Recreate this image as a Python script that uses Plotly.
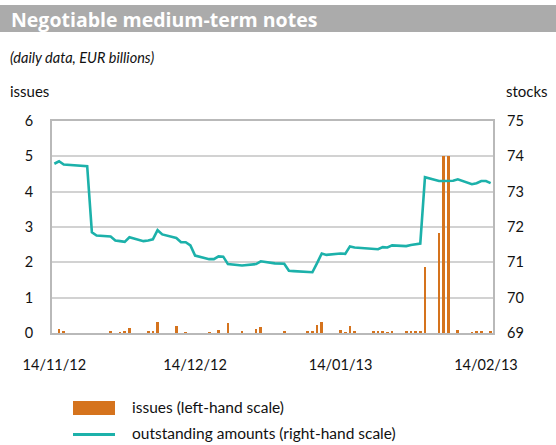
import plotly.graph_objects as go

# Business days covered by the chart (TARGET holidays excluded)
dates = [
    "2012-11-14", "2012-11-15", "2012-11-16", "2012-11-19", "2012-11-20", "2012-11-21",
    "2012-11-22", "2012-11-23", "2012-11-26", "2012-11-27", "2012-11-28", "2012-11-29",
    "2012-11-30",
    "2012-12-03", "2012-12-04", "2012-12-05", "2012-12-06", "2012-12-07", "2012-12-10",
    "2012-12-11", "2012-12-12", "2012-12-13", "2012-12-14", "2012-12-17", "2012-12-18",
    "2012-12-19", "2012-12-20", "2012-12-21", "2012-12-24", "2012-12-27", "2012-12-28",
    "2012-12-31",
    "2013-01-02", "2013-01-03", "2013-01-04", "2013-01-07", "2013-01-08", "2013-01-09",
    "2013-01-10", "2013-01-11", "2013-01-14", "2013-01-15", "2013-01-16", "2013-01-17",
    "2013-01-18", "2013-01-21", "2013-01-22", "2013-01-23", "2013-01-24", "2013-01-25",
    "2013-01-28", "2013-01-29", "2013-01-30", "2013-01-31",
    "2013-02-01", "2013-02-04", "2013-02-05", "2013-02-06", "2013-02-07", "2013-02-08",
    "2013-02-11", "2013-02-12", "2013-02-13", "2013-02-14", "2013-02-15",
]

# Gross issues, EUR billions (left-hand scale)
issues = [
    0.00, 0.11, 0.03, 0.00, 0.00, 0.00,
    0.00, 0.00, 0.06, 0.00, 0.02, 0.03,
    0.15,
    0.00, 0.07, 0.04, 0.32, 0.00, 0.21,
    0.00, 0.02, 0.00, 0.00, 0.02, 0.00,
    0.09, 0.00, 0.28, 0.07, 0.12, 0.17,
    0.00,
    0.03, 0.00, 0.00, 0.03, 0.03, 0.24,
    0.30, 0.00, 0.08, 0.02, 0.20, 0.07,
    0.00, 0.03, 0.03, 0.06, 0.02, 0.06,
    0.04, 0.04, 0.04, 0.04,
    1.87, 2.84, 5.00, 5.00, 0.00, 0.09,
    0.02, 0.07, 0.07, 0.00, 0.06,
]

# Outstanding amounts, EUR billions (right-hand scale)
stocks = [
    73.79, 73.86, 73.77, 73.74, 73.72, 73.72,
    71.85, 71.76, 71.73, 71.62, 71.60, 71.58,
    71.71,
    71.60, 71.62, 71.65, 71.91, 71.79, 71.69,
    71.57, 71.57, 71.48, 71.19, 71.09, 71.09,
    71.17, 71.16, 70.95, 70.91, 70.95, 71.03,
    70.97,
    70.96, 70.76, 70.75, 70.74, 70.72, 70.98,
    71.25, 71.21, 71.25, 71.24, 71.45, 71.42,
    71.41, 71.37, 71.37, 71.43, 71.42, 71.48,
    71.46, 71.49, 71.50, 71.53,
    73.41, 73.30, 73.30, 73.30, 73.31, 73.35,
    73.21, 73.24, 73.30, 73.30, 73.24,
]

tick_dates = ["2012-11-14", "2012-12-14", "2013-01-14", "2013-02-14"]
tick_text = ["14/11/12", "14/12/12", "14/01/13", "14/02/13"]

ORANGE = "#D5731D"
TEAL = "#1CB1AA"
FRAME = "#B9B9B9"
GRID = "#D2D2D2"
FONT = "Lato"

W, H = 556, 445
ML, MR, MT, MB = 52, 63, 121, 112
PW, PH = W - ML - MR, H - MT - MB


def px(x):
    return (x - ML) / PW


def py(y):
    return (H - MB - y) / PH


fig = go.Figure()

fig.add_trace(go.Bar(
    x=dates, y=issues, yaxis="y",
    marker=dict(color=ORANGE, line=dict(width=0)),
    width=0.58 * 86400000,
    name="issues (left-hand scale)",
    showlegend=False,
))

fig.add_trace(go.Scatter(
    x=dates, y=stocks, yaxis="y2",
    mode="lines",
    line=dict(color=TEAL, width=2.6),
    name="outstanding amounts (right-hand scale)",
    showlegend=False,
))

shapes = [
    # title band
    dict(type="rect", xref="paper", yref="paper",
         x0=px(0), x1=px(W), y0=py(32), y1=py(5),
         fillcolor="#ABABAB", line=dict(width=0), layer="below"),
    # legend keys
    dict(type="rect", xref="paper", yref="paper",
         x0=px(73), x1=px(115), y0=py(415), y1=py(401),
         fillcolor=ORANGE, line=dict(width=0)),
    dict(type="line", xref="paper", yref="paper",
         x0=px(73), x1=px(115), y0=py(434.5), y1=py(434.5),
         line=dict(color=TEAL, width=3)),
]

annotations = [
    dict(text="<b>Negotiable medium-term notes</b>", x=px(9), y=py(19),
         font=dict(size=19.5, color="white", family="Open Sans")),
    dict(text="<i>(daily data, EUR billions)</i>", x=px(8), y=py(57),
         font=dict(size=14.5, color="#111111", family=FONT)),
    dict(text="issues", x=px(8), y=py(91),
         font=dict(size=15, color="#111111", family=FONT)),
    dict(text="stocks", x=px(504), y=py(91),
         font=dict(size=15, color="#111111", family=FONT)),
    dict(text="issues (left-hand scale)", x=px(130), y=py(407),
         font=dict(size=15.5, color="#111111", family=FONT)),
    dict(text="outstanding amounts (right-hand scale)", x=px(130), y=py(433),
         font=dict(size=15.5, color="#111111", family=FONT)),
]
for a in annotations:
    a.update(xref="paper", yref="paper", xanchor="left", yanchor="middle",
             showarrow=False)

fig.update_layout(
    width=W, height=H,
    margin=dict(l=ML, r=MR, t=MT, b=MB, pad=0),
    paper_bgcolor="white", plot_bgcolor="white",
    font=dict(family=FONT, size=14, color="#111111"),
    bargap=0,
    shapes=shapes,
    annotations=annotations,
    xaxis=dict(
        type="date",
        range=["2012-11-13 12:00", "2013-02-15 12:00"],
        tickvals=tick_dates, ticktext=tick_text,
        ticks="", ticklabelstandoff=18,
        tickfont=dict(size=14.5),
        showgrid=False, zeroline=False,
        showline=True, mirror=True, linecolor=FRAME, linewidth=2,
    ),
    yaxis=dict(
        range=[0, 6], dtick=1, tick0=0,
        ticks="", ticklabelstandoff=14,
        tickfont=dict(size=14.5),
        showgrid=True, gridcolor=GRID, gridwidth=1.5,
        zeroline=False,
        showline=True, mirror=True, linecolor=FRAME, linewidth=2,
    ),
    yaxis2=dict(
        range=[69, 75], dtick=1, tick0=69,
        overlaying="y", side="right",
        ticks="", ticklabelstandoff=13,
        tickfont=dict(size=14.5),
        showgrid=False, zeroline=False, showline=False,
    ),
)

fig.write_html("out.html")
